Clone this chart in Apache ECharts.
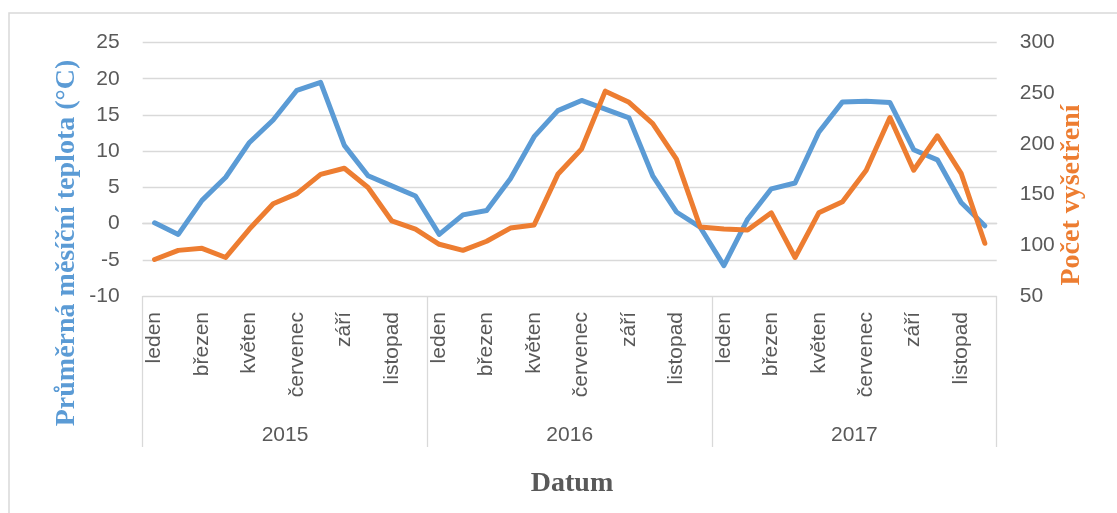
<!DOCTYPE html>
<html>
<head>
<meta charset="utf-8">
<script src="https://cdn.jsdelivr.net/npm/echarts@6/dist/echarts.min.js"></script>
<style>
html,body{margin:0;padding:0;background:#fff;}
#chart{width:1117px;height:513px;}
</style>
</head>
<body>
<div id="chart"></div>
<script>
var months = ['leden','únor','březen','duben','květen','červen','červenec','srpen','září','říjen','listopad','prosinec'];
var years = ['2015','2016','2017'];
var temperature = [
  0.1, -1.5, 3.2, 6.4, 11.2, 14.3, 18.4, 19.5, 10.8, 6.6, 5.2, 3.8,
  -1.5, 1.2, 1.8, 6.2, 12.0, 15.6, 17.0, 15.8, 14.6, 6.6, 1.6, -0.5,
  -5.8, 0.6, 4.8, 5.6, 12.6, 16.8, 16.9, 16.7, 10.2, 8.8, 2.9, -0.3
];
var exams = [
  86, 95, 97, 88, 116, 141, 151, 170, 176, 157, 124, 116,
  101, 95, 104, 117, 120, 170, 195, 252, 241, 220, 185, 118,
  116, 115, 132, 88, 132, 143, 174, 226, 174, 208, 171, 102
];
var leftTicks = {min: -10, max: 25, interval: 5};
var rightTicks = {min: 50, max: 300, interval: 50};

var categories = [];
years.forEach(function (y) {
  months.forEach(function (m, i) { categories.push(y + '-' + (i + 1)); });
});

var sans = 'Liberation Sans';
var grey = '#595959';
var gridCol = '#d9d9d9';

var chart = echarts.init(document.getElementById('chart'), null, {renderer: 'canvas'});
chart.setOption({
  animation: false,
  backgroundColor: '#fff',
  grid: {left: 142.7, right: 120.3, top: 42.5, bottom: 217, containLabel: false},
  xAxis: [{
    type: 'category',
    data: categories,
    boundaryGap: true,
    position: 'bottom',
    axisLine: {show: true, lineStyle: {color: gridCol, width: 1.3}},
    axisTick: {show: false},
    axisLabel: {
      interval: 1, rotate: 90, margin: 16, color: grey,
      fontFamily: sans, fontSize: 21,
      formatter: function (v, i) { return months[i % 12]; }
    },
    splitLine: {show: false}
  }, {
    type: 'category',
    data: years,
    boundaryGap: true,
    position: 'bottom',
    axisLine: {show: false},
    axisTick: {show: true, interval: 0, length: 151, lineStyle: {color: gridCol, width: 1.3}},
    axisLabel: {margin: 129, color: grey, fontFamily: sans, fontSize: 21},
    splitLine: {show: false}
  }],
  yAxis: [{
    type: 'value',
    min: leftTicks.min, max: leftTicks.max, interval: leftTicks.interval,
    axisLine: {show: false},
    axisTick: {show: false},
    axisLabel: {margin: 23, color: grey, fontFamily: sans, fontSize: 21},
    splitLine: {show: true, lineStyle: {color: gridCol, width: 1.3}}
  }, {
    type: 'value',
    min: rightTicks.min, max: rightTicks.max, interval: rightTicks.interval,
    position: 'right',
    axisLine: {show: false},
    axisTick: {show: false},
    axisLabel: {margin: 23, color: grey, fontFamily: sans, fontSize: 21},
    splitLine: {show: false}
  }],
  series: [{
    name: 'Průměrná měsíční teplota (°C)',
    type: 'line',
    data: temperature,
    xAxisIndex: 0, yAxisIndex: 0,
    showSymbol: false, symbol: 'none',
    lineStyle: {color: '#5b9bd5', width: 5, cap: 'round', join: 'round'},
    itemStyle: {color: '#5b9bd5'},
    z: 3
  }, {
    name: 'Počet vyšetření',
    type: 'line',
    data: exams,
    xAxisIndex: 0, yAxisIndex: 1,
    showSymbol: false, symbol: 'none',
    lineStyle: {color: '#ed7d31', width: 5, cap: 'round', join: 'round'},
    itemStyle: {color: '#ed7d31'},
    z: 4
  }],
  graphic: [{
    type: 'rect', silent: true, z: -1,
    shape: {x: 9, y: 13, width: 1200, height: 600},
    style: {fill: 'none', stroke: gridCol, lineWidth: 1.5}
  }, {
    type: 'text', x: 67, y: 243, rotation: Math.PI / 2,
    style: {text: 'Průměrná měsíční teplota (°C)', fill: '#5b9bd5', font: 'bold 28px "Liberation Serif"', align: 'center', verticalAlign: 'middle'}
  }, {
    type: 'text', x: 1072, y: 195, rotation: Math.PI / 2,
    style: {text: 'Počet vyšetření', fill: '#ed7d31', font: 'bold 28px "Liberation Serif"', align: 'center', verticalAlign: 'middle'}
  }, {
    type: 'text', x: 572, y: 484,
    style: {text: 'Datum', fill: grey, font: 'bold 28px "Liberation Serif"', align: 'center', verticalAlign: 'middle'}
  }]
});
</script>
</body>
</html>
